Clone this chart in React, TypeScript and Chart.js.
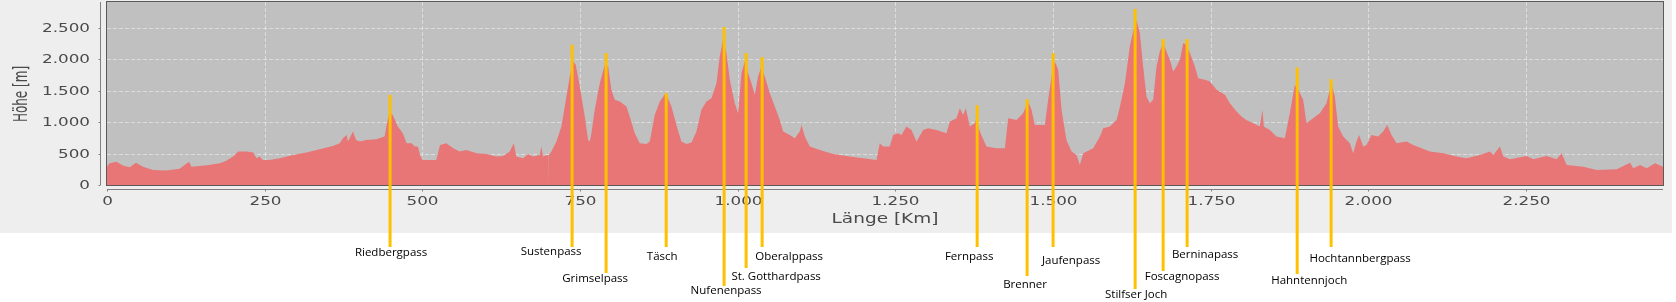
import React, { useEffect, useRef } from "react";
import { Chart, registerables } from "chart.js";

Chart.register(...registerables);

// ---- Data -------------------------------------------------------------
const distanceKm = [
  0, 4, 15, 26, 36, 46, 57, 73, 94, 115, 130, 134, 158, 179, 189, 200, 208, 221, 232, 237, 242, 247, 258, 274, 295, 316, 337, 358, 369, 374, 380, 382, 390, 395, 401, 411, 427, 440, 444, 448, 453, 461, 469, 475, 483, 488, 493, 497, 501, 522, 528, 538, 549, 559, 570, 586, 602, 617, 628, 638.5, 644.9, 649, 659.7, 667.6, 675.5, 686, 688.7, 691.4, 697.7, 699.5, 699.8, 700.1, 704.6, 712.5, 720.5, 728.4, 733.7, 739, 743.2, 749.6, 757.5, 762.8, 765.4, 768, 773.3, 781.3, 789.2, 794.5, 799.7, 805, 813, 823.5, 828.8, 836.8, 844.7, 855.2, 860.5, 868.4, 876.4, 885.9, 894.9, 902.8, 910.7, 918.6, 926.6, 934.5, 942.4, 950.4, 958.3, 966.3, 971.5, 976.8, 982.1, 987.4, 995.3, 1000.6, 1005.9, 1011.2, 1016.5, 1021.8, 1027.1, 1032.3, 1037.6, 1042.9, 1050.9, 1058.8, 1066.7, 1072, 1082.6, 1090.5, 1098.4, 1101.1, 1106.4, 1114.3, 1130.2, 1151.3, 1177.8, 1198.9, 1220, 1225.2, 1230.5, 1241, 1246.4, 1254.3, 1259.6, 1267.6, 1275.5, 1283.4, 1294, 1301.9, 1315.1, 1331, 1336.3, 1346.8, 1352.1, 1357.4, 1361.6, 1368, 1375.9, 1378.5, 1383.8, 1394.4, 1410.2, 1423.5, 1428.8, 1442, 1452.5, 1460.4, 1465.8, 1471, 1486.9, 1492.2, 1497.5, 1502.8, 1508.1, 1513.4, 1521.2, 1529.2, 1537.2, 1542.4, 1547.7, 1563.6, 1574.2, 1579.5, 1590, 1600.7, 1606, 1613.9, 1621.6, 1627, 1632.2, 1637.5, 1642.8, 1648.1, 1653.4, 1658.7, 1664, 1669.2, 1674.5, 1679.8, 1685.1, 1690.4, 1695.7, 1701, 1706.3, 1711.6, 1716.9, 1724.8, 1730.1, 1740.7, 1748.6, 1759.2, 1772.4, 1780.3, 1790.9, 1798.8, 1806.4, 1817.2, 1827.7, 1832, 1834.1, 1843.6, 1854.2, 1867.4, 1875.3, 1883.3, 1888.6, 1896.5, 1901.7, 1912.3, 1922.9, 1933.5, 1941.4, 1946.7, 1952, 1959.9, 1970.5, 1975.8, 1981, 1985.3, 1991.6, 1996.9, 2004.8, 2015.4, 2023.3, 2029.7, 2036.6, 2044.5, 2060.4, 2071, 2097.4, 2118.6, 2139.7, 2155.6, 2176.7, 2192.6, 2197.9, 2208.5, 2213.8, 2224.4, 2250.8, 2261.4, 2282.5, 2298.4, 2306.3, 2314.3, 2340.7, 2361.9, 2393.6, 2414.7, 2420, 2430.6, 2441.1, 2454.4, 2467,
];

const elevationM = [
  292, 345, 372, 308, 282, 356, 292, 240, 229, 260, 372, 292, 314, 345, 388, 452, 532, 532, 516, 425, 452, 399, 399, 425, 479, 516, 569, 622, 665, 745, 798, 691, 851, 718, 691, 718, 729, 771, 984, 1170, 1117, 931, 824, 665, 665, 612, 612, 452, 399, 399, 638, 665, 585, 532, 558, 505, 495, 452, 463, 532, 665, 452, 425, 495, 452, 479, 612, 452, 479, 470, 0, 470, 532, 691, 931, 1409, 1728, 1968, 1914, 1569, 1090, 718, 691, 824, 1197, 1622, 1914, 1888, 1516, 1356, 1330, 1250, 1090, 824, 665, 654, 691, 1117, 1330, 1462, 1250, 957, 691, 654, 675, 851, 1197, 1330, 1383, 1622, 2047, 2313, 2101, 1675, 1303, 1143, 1782, 1968, 1782, 1622, 1436, 1728, 1888, 1728, 1462, 1250, 1037, 851, 798, 745, 851, 957, 771, 612, 558, 495, 452, 425, 399, 665, 612, 612, 798, 824, 798, 931, 877, 691, 877, 904, 877, 824, 1010, 1064, 1223, 1117, 1223, 931, 984, 1064, 851, 612, 585, 585, 1064, 1037, 1143, 1330, 1197, 957, 957, 1356, 1728, 1968, 1835, 1197, 718, 532, 479, 319, 505, 585, 771, 904, 931, 1037, 1250, 1622, 2207, 2446, 2632, 2420, 1888, 1409, 1303, 1356, 1888, 2127, 2260, 2127, 1994, 1808, 1888, 1994, 2260, 2234, 2101, 1888, 1702, 1675, 1649, 1516, 1436, 1303, 1170, 1090, 1037, 984, 931, 1197, 931, 877, 771, 745, 1143, 1595, 1516, 1356, 984, 1064, 1143, 1303, 1622, 1409, 931, 771, 665, 505, 691, 798, 612, 638, 798, 771, 851, 957, 798, 665, 691, 638, 532, 505, 452, 425, 479, 532, 479, 612, 452, 410, 463, 410, 463, 410, 505, 319, 292, 239, 250, 356, 266, 319, 266, 345, 292,
];

const passNames = [
  "Riedbergpass", "Sustenpass", "Grimselpass", "Täsch", "Nufenenpass", "St. Gotthardpass", "Oberalppass",
  "Fernpass", "Brenner", "Jaufenpass", "Stilfser Joch", "Foscagnopass", "Berninapass", "Hahntennjoch", "Hochtannbergpass",
];
const passKm = [448.8, 737.4, 791.3, 886.6, 978.4, 1013.3, 1038.7, 1379.6, 1458.8, 1500, 1630.1, 1674.5, 1712.5, 1887, 1940.8];
const passHeightM = [1436, 2234, 2101, 1462, 2515, 2101, 2037, 1271, 1367, 2101, 2803, 2324, 2324, 1872, 1686];

const xTicks = [0, 250, 500, 750, 1000, 1250, 1500, 1750, 2000, 2250];
const yTicks = [0, 500, 1000, 1500, 2000, 2500];

const xAxisTitle = "Länge [Km]";
const yAxisTitle = "Höhe [m]";

// ---- Layout of the pass labels (pixels, not data) --------------------
const labelLineEndY = [247, 247, 273, 247, 286, 268, 247, 247, 276, 247, 289, 271, 247, 274, 247];
const labelDx = [1, -21, -11, -4, 2, 30, 27, -8, -2, 18, 1, 19, 18, 12, 29];
const labelCy = [253, 252, 279, 257, 291, 277, 257, 257, 285, 261, 295, 277, 255, 281, 259];

const W = 1676;
const H = 302;

const fmt = (v: number) => v.toLocaleString("de-DE");

function stretchedText(ctx: CanvasRenderingContext2D, text: string, x: number, y: number, align: CanvasTextAlign, sx: number) {
  ctx.save();
  ctx.translate(x, y);
  ctx.scale(sx, 1);
  ctx.textAlign = align;
  ctx.textBaseline = "middle";
  ctx.fillText(text, 0, 0);
  ctx.restore();
}

const decorPlugin = {
  id: "decor",
  beforeDraw(chart: any) {
    const { ctx, chartArea: a, scales } = chart;
    const xs = scales.x;
    const ys = scales.y;
    ctx.save();
    ctx.fillStyle = "#ffffff";
    ctx.fillRect(0, 0, W, H);
    ctx.fillStyle = "#eeeeee";
    ctx.fillRect(0, 0, 1672, 233);
    ctx.fillStyle = "#c0c0c0";
    ctx.fillRect(a.left, a.top, a.right - a.left, a.bottom - a.top);
    ctx.strokeStyle = "rgba(255,255,255,0.45)";
    ctx.lineWidth = 1;
    ctx.setLineDash([4, 2]);
    for (const t of xTicks) {
      if (t === 0) continue;
      const px = Math.round(xs.getPixelForValue(t)) + 0.5;
      ctx.beginPath();
      ctx.moveTo(px, a.top);
      ctx.lineTo(px, a.bottom);
      ctx.stroke();
    }
    for (const t of yTicks) {
      if (t === 0) continue;
      const py = Math.round(ys.getPixelForValue(t)) + 0.5;
      ctx.beginPath();
      ctx.moveTo(a.left, py);
      ctx.lineTo(a.right, py);
      ctx.stroke();
    }
    ctx.restore();
  },
  afterDraw(chart: any) {
    const { ctx, chartArea: a, scales } = chart;
    const xs = scales.x;
    const ys = scales.y;
    ctx.save();
    // plot border
    ctx.strokeStyle = "#5a5a5a";
    ctx.lineWidth = 1;
    ctx.strokeRect(a.left - 0.5, a.top - 0.5, a.right - a.left + 1, a.bottom - a.top + 1);
    // axis lines
    ctx.strokeStyle = "#808080";
    const axX = a.left - 6.5;
    ctx.beginPath();
    ctx.moveTo(axX, a.top);
    ctx.lineTo(axX, a.bottom);
    ctx.stroke();
    const axY = a.bottom + 4.5;
    ctx.beginPath();
    ctx.moveTo(a.left, axY);
    ctx.lineTo(a.right, axY);
    ctx.stroke();
    // tick marks and labels
    ctx.fillStyle = "#4a4a4a";
    ctx.font = '13px "DejaVu Sans"';
    for (const t of yTicks) {
      const py = Math.round(ys.getPixelForValue(t)) + 0.5;
      ctx.beginPath();
      ctx.moveTo(axX - 2, py);
      ctx.lineTo(axX, py);
      ctx.stroke();
      stretchedText(ctx, fmt(t), 90, py + 0.5, "right", 1.29);
    }
    for (const t of xTicks) {
      const px = Math.round(xs.getPixelForValue(t)) + 0.5;
      ctx.beginPath();
      ctx.moveTo(px, axY);
      ctx.lineTo(px, axY + 2);
      ctx.stroke();
      stretchedText(ctx, fmt(t), px, 202, "center", 1.29);
    }
    // axis titles
    ctx.font = '14px "DejaVu Sans"';
    stretchedText(ctx, xAxisTitle, (a.left + a.right) / 2, 219, "center", 1.32);
    ctx.save();
    ctx.translate(21.5, 94);
    ctx.scale(1.6, 1);
    ctx.rotate(-Math.PI / 2);
    ctx.font = '12px "DejaVu Sans"';
    ctx.textAlign = "center";
    ctx.textBaseline = "middle";
    ctx.fillText(yAxisTitle, 0, 0);
    ctx.restore();
    // pass markers
    ctx.strokeStyle = "#ffc000";
    ctx.lineWidth = 3;
    ctx.setLineDash([]);
    ctx.font = '11.5px "Open Sans"';
    ctx.textAlign = "center";
    ctx.textBaseline = "middle";
    for (let i = 0; i < passNames.length; i++) {
      const px = xs.getPixelForValue(passKm[i]);
      const top = ys.getPixelForValue(passHeightM[i]);
      ctx.beginPath();
      ctx.moveTo(px, top);
      ctx.lineTo(px, labelLineEndY[i]);
      ctx.stroke();
    }
    ctx.fillStyle = "#000000";
    for (let i = 0; i < passNames.length; i++) {
      const px = xs.getPixelForValue(passKm[i]);
      ctx.fillText(passNames[i], px + labelDx[i], labelCy[i]);
    }
    ctx.restore();
  },
};

export default function App() {
  const canvasRef = useRef<HTMLCanvasElement | null>(null);

  useEffect(() => {
    if (!canvasRef.current) return;
    const points = distanceKm.map((d, i) => ({ x: d, y: elevationM[i] }));
    const chart = new Chart(canvasRef.current, {
      type: "line",
      data: {
        datasets: [
          {
            data: points,
            borderWidth: 0,
            borderColor: "rgba(0,0,0,0)",
            backgroundColor: "#e87676",
            fill: "origin",
            pointRadius: 0,
            tension: 0,
          },
        ],
      },
      options: {
        responsive: false,
        animation: false,
        devicePixelRatio: 1,
        layout: { padding: { left: 107, right: 13, top: 2, bottom: 117 } },
        plugins: { legend: { display: false }, tooltip: { enabled: false } },
        events: [],
        scales: {
          x: { type: "linear", min: 0, max: 2467, display: false },
          y: { type: "linear", min: 0, max: 2915, display: false },
        },
      },
      plugins: [decorPlugin],
    });
    return () => chart.destroy();
  }, []);

  return (
    <div style={{ position: "absolute", left: 0, top: 0, width: W, height: H }}>
      <canvas ref={canvasRef} width={W} height={H} style={{ display: "block", width: W, height: H }} />
    </div>
  );
}
